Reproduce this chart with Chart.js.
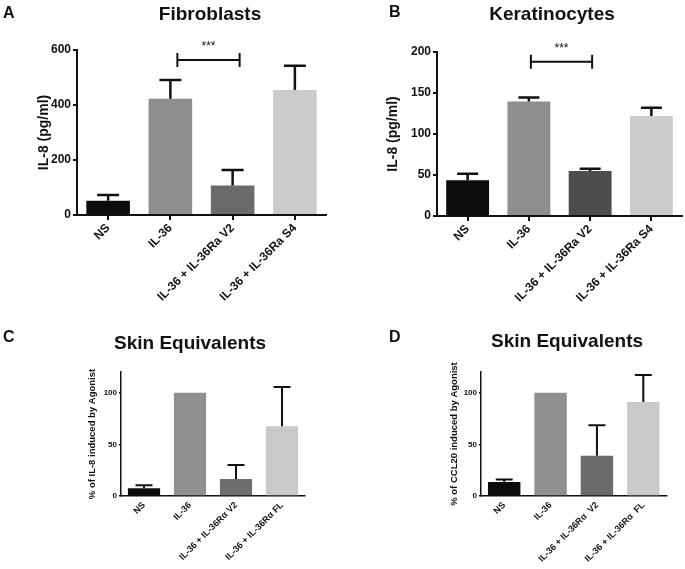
<!DOCTYPE html>
<html>
<head>
<meta charset="utf-8">
<script src="https://cdn.jsdelivr.net/npm/chart.js@4.4.0/dist/chart.umd.min.js"></script>
<style>
body{margin:0;background:#fff;}
#wrap{position:relative;width:685px;height:569px;overflow:hidden;font-family:"Liberation Sans",Arial,sans-serif;color:#111;}
canvas{position:absolute;}
.t{position:absolute;font-weight:bold;white-space:nowrap;transform:translate(-50%,-50%);font-size:19px;}
.l{position:absolute;font-weight:bold;white-space:nowrap;transform:translateY(-50%);font-size:16px;}
</style>
</head>
<body>
<div id="wrap">
  <canvas id="cA" width="340" height="310" style="left:0;top:0"></canvas>
  <canvas id="cB" width="345" height="310" style="left:340px;top:0"></canvas>
  <canvas id="cC" width="340" height="269" style="left:0;top:300px"></canvas>
  <canvas id="cD" width="345" height="269" style="left:340px;top:300px"></canvas>
  <div class="l" style="left:3px;top:13px">A</div>
  <div class="l" style="left:389px;top:12px">B</div>
  <div class="l" style="left:3px;top:337px">C</div>
  <div class="l" style="left:389px;top:337px">D</div>
  <div class="t" style="left:210px;top:14px">Fibroblasts</div>
  <div class="t" style="left:552px;top:14px">Keratinocytes</div>
  <div class="t" style="left:190px;top:343px">Skin Equivalents</div>
  <div class="t" style="left:567px;top:341px">Skin Equivalents</div>
</div>
<script>
// group labels
const labelsAB = ['NS', 'IL-36', 'IL-36 + IL-36Ra V2', 'IL-36 + IL-36Ra S4'];
const labelsC = ['NS', 'IL-36', 'IL-36 + IL-36R\u03b1 V2', 'IL-36 + IL-36R\u03b1 FL'];
const labelsD = ['NS', 'IL-36', 'IL-36 + IL-36R\u03b1  V2', 'IL-36 + IL-36R\u03b1  FL'];

// A - fibroblasts, IL-8 pg/ml
const fibroMean = [52, 423, 107, 455];
const fibroSd = [21, 68, 57, 88];
// B - keratinocytes, IL-8 pg/ml
const keraMean = [43.5, 139.5, 55, 122];
const keraSd = [8, 5, 2.5, 10];
// C - skin equivalents, % of IL-8
const skinIl8Mean = [7.5, 100, 16.5, 67.5];
const skinIl8Sd = [3, 0, 13.5, 38];
// D - skin equivalents, % of CCL20
const skinCclMean = [13.5, 100, 39, 91];
const skinCclSd = [2.5, 0, 29.5, 26];

// y axis ticks
const ticksA = [0, 200, 400, 600];
const ticksB = [0, 50, 100, 150, 200];
const ticksCD = [0, 50, 100];

const ink = '#111';
const font = '"Liberation Sans", Arial, sans-serif';

function panel(id, p) {
  const errBars = {
    id: 'err',
    afterDatasetsDraw(chart) {
      const ctx = chart.ctx, y = chart.scales.y, x = chart.scales.x;
      const meta = chart.getDatasetMeta(0);
      ctx.save();
      ctx.strokeStyle = ink;
      ctx.lineWidth = p.errLw;
      p.mean.forEach((m, i) => {
        if (!p.sd[i]) return;
        const bx = meta.data[i].x;
        const y0 = y.getPixelForValue(m);
        const y1 = y.getPixelForValue(m + p.sd[i]);
        ctx.beginPath();
        ctx.moveTo(bx, y0);
        ctx.lineTo(bx, y1);
        ctx.moveTo(bx - p.cap / 2, y1);
        ctx.lineTo(bx + p.cap / 2, y1);
        ctx.stroke();
      });
      if (p.sig) {
        const s = p.sig;
        const xa = x.getPixelForValue(s.from) + s.shift;
        const xb = x.getPixelForValue(s.to) + s.shift;
        const ly = y.getPixelForValue(s.value);
        ctx.lineWidth = 2;
        ctx.beginPath();
        ctx.moveTo(xa, ly - 7); ctx.lineTo(xa, ly + 7);
        ctx.moveTo(xa, ly); ctx.lineTo(xb, ly);
        ctx.moveTo(xb, ly - 7); ctx.lineTo(xb, ly + 7);
        ctx.stroke();
        ctx.fillStyle = ink;
        ctx.font = '12px ' + font;
        ctx.textAlign = 'center';
        ctx.textBaseline = 'middle';
        ctx.fillText('***', (xa + xb) / 2, ly - 13);
      }
      ctx.restore();
    }
  };

  return new Chart(document.getElementById(id), {
    type: 'bar',
    data: {
      labels: p.labels,
      datasets: [{
        data: p.mean,
        backgroundColor: p.colors,
        borderWidth: 0,
        barPercentage: 0.7,
        categoryPercentage: 1
      }]
    },
    options: {
      responsive: false,
      animation: false,
      layout: { padding: { left: 0, top: p.top, right: p.right, bottom: 0 } },
      plugins: { legend: { display: false }, tooltip: { enabled: false } },
      scales: {
        x: {
          afterFit: s => { s.height = p.xh; },
          grid: { offset: false, drawOnChartArea: false, tickLength: p.xTick, color: p.xTickColor, lineWidth: p.lw },
          border: { color: ink, width: p.lw },
          ticks: {
            autoSkip: false, minRotation: 45, maxRotation: 45, padding: 1,
            color: ink, font: { family: font, size: p.xFont, weight: 'bold' }
          }
        },
        y: {
          min: 0, max: p.max,
          afterFit: s => { s.width = p.yw; },
          afterBuildTicks: s => { s.ticks = p.ticks.map(v => ({ value: v })); },
          grid: { drawOnChartArea: false, tickLength: p.yTick, color: ink, lineWidth: p.lw },
          border: { color: ink, width: p.lw },
          ticks: { padding: 2, color: ink, font: { family: font, size: p.yFont, weight: 'bold' } },
          title: {
            display: true, text: p.yTitle, color: ink,
            padding: { top: p.titlePad, bottom: 0 },
            font: { family: font, size: p.yTitleFont, weight: 'bold' }
          }
        }
      }
    },
    plugins: [errBars]
  });
}

panel('cA', {
  labels: labelsAB, mean: fibroMean, sd: fibroSd, ticks: ticksA, max: 600,
  colors: ['#0c0c0c', '#8e8e8e', '#6b6b6b', '#cbcbcb'],
  top: 50, right: 14, yw: 77, xh: 95, lw: 2, xTick: 5, yTick: 4, xTickColor: ink,
  xFont: 12, yFont: 12, yTitle: 'IL-8 (pg/ml)', yTitleFont: 14, titlePad: 36,
  errLw: 2.5, cap: 22,
  sig: { from: 1, to: 2, value: 564, shift: 7 }
});

panel('cB', {
  labels: labelsAB, mean: keraMean, sd: keraSd, ticks: ticksB, max: 200,
  colors: ['#0c0c0c', '#8e8e8e', '#4d4d4d', '#cbcbcb'],
  top: 52, right: 3, yw: 97, xh: 94, lw: 2, xTick: 5, yTick: 4, xTickColor: ink,
  xFont: 12, yFont: 12, yTitle: 'IL-8 (pg/ml)', yTitleFont: 14, titlePad: 45,
  errLw: 2.5, cap: 21,
  sig: { from: 1, to: 2, value: 188, shift: 2 }
});

panel('cC', {
  labels: labelsC, mean: skinIl8Mean, sd: skinIl8Sd, ticks: ticksCD, max: 120,
  colors: ['#0c0c0c', '#909090', '#6e6e6e', '#c9c9c9'],
  top: 72, right: 35, yw: 121, xh: 73, lw: 1.5, xTick: 3, yTick: 2, xTickColor: 'rgba(0,0,0,0)',
  xFont: 9, yFont: 8, yTitle: '% of IL-8 induced by Agonist', yTitleFont: 9.5, titlePad: 87,
  errLw: 2, cap: 17
});

panel('cD', {
  labels: labelsD, mean: skinCclMean, sd: skinCclSd, ticks: ticksCD, max: 120,
  colors: ['#0c0c0c', '#909090', '#6b6b6b', '#c9c9c9'],
  top: 72, right: 18.5, yw: 141, xh: 73, lw: 1.5, xTick: 3, yTick: 2, xTickColor: 'rgba(0,0,0,0)',
  xFont: 9, yFont: 8, yTitle: '% of CCL20 induced by Agonist', yTitleFont: 9.5, titlePad: 109,
  errLw: 2, cap: 17
});
</script>
</body>
</html>
